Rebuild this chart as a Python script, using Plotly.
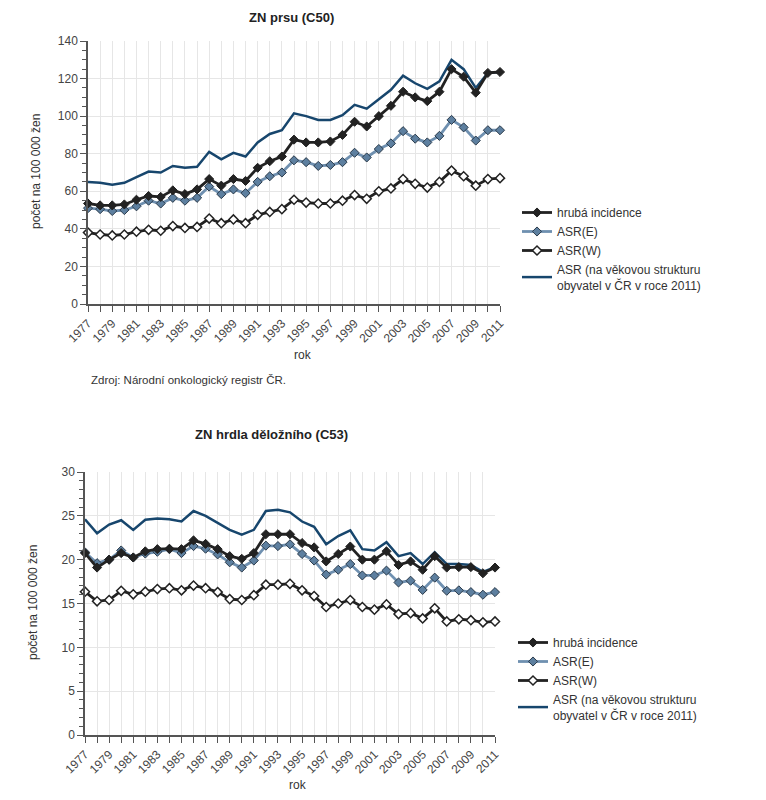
import plotly.graph_objects as go

years = list(range(1977, 2012))

# ZN prsu (C50)
c50_hruba = [53.5, 52.5, 52.5, 53, 55.5, 57.5, 57, 60.5, 58.5, 61, 66.5, 63, 66.5, 65.5, 72.5, 76, 78.5,
             87.5, 86, 86, 86.5, 90, 97, 94.5, 100, 105.5, 113, 110, 108, 113, 125, 121, 112.5, 123, 123.5]
c50_asr_e = [51, 50.5, 49.5, 50, 52, 55, 53.5, 56.5, 55, 56.5, 62.5, 58.5, 61, 59, 65, 68, 70,
             76.5, 75.5, 73.5, 74, 75.5, 80.5, 78, 82.5, 85.5, 92, 88, 86, 89.5, 98, 94, 87, 92.5, 92.5]
c50_asr_w = [38, 37, 36.5, 37, 38.5, 39.5, 39, 41.5, 40.5, 41, 45.5, 43, 45, 43, 47.5, 49, 50.5,
             55.5, 54, 53.5, 53.5, 55, 58, 56, 60, 61.5, 66.5, 64, 62, 65, 71, 68, 63, 66.5, 67]
c50_asr_cr = [65, 64.5, 63.5, 64.5, 67.5, 70.5, 70, 73.5, 72.5, 73, 81, 77, 80.5, 78.5, 86, 90.5, 92.5,
              101.5, 100, 98, 98, 100.5, 106, 104, 109, 114, 121.5, 117.5, 114.5, 118.5, 130, 125, 115, 123, 123.5]

# ZN hrdla děložního (C53)
c53_hruba = [20.75, 19.1, 20.0, 20.75, 20.25, 20.95, 21.2, 21.25, 21.2, 22.2, 21.8, 21.2, 20.4, 20.1, 20.75,
             22.9, 22.9, 22.9, 21.9, 21.4, 19.8, 20.65, 21.5, 20.0, 20.0, 20.95, 19.4, 19.8, 18.85, 20.4,
             19.1, 19.15, 19.15, 18.45, 19.1]
c53_asr_e = [20.85, 19.6, 20.0, 21.05, 20.25, 20.7, 20.9, 21.2, 20.75, 21.55, 21.25, 20.6, 19.7, 19.1, 19.9,
             21.6, 21.55, 21.75, 20.65, 19.9, 18.3, 18.85, 19.5, 18.2, 18.2, 18.75, 17.4, 17.6, 16.55, 17.95,
             16.45, 16.5, 16.3, 16.0, 16.3]
c53_asr_w = [16.35, 15.25, 15.4, 16.45, 16.05, 16.35, 16.65, 16.75, 16.5, 17.05, 16.75, 16.3, 15.5, 15.4, 15.95,
             17.15, 17.15, 17.25, 16.5, 15.85, 14.6, 15.0, 15.4, 14.6, 14.3, 14.9, 13.8, 13.9, 13.3, 14.45,
             12.95, 13.2, 13.1, 12.85, 12.95]
c53_asr_cr = [24.6, 23.0, 24.0, 24.5, 23.4, 24.55, 24.7, 24.6, 24.35, 25.55, 25.0, 24.2, 23.4, 22.85, 23.4,
              25.55, 25.7, 25.4, 24.35, 23.75, 21.75, 22.7, 23.35, 21.2, 21.05, 22.0, 20.4, 20.75, 19.5, 20.85,
              19.5, 19.5, 19.4, 18.6, 19.15]

series_names = ["hrubá incidence", "ASR(E)", "ASR(W)", "ASR (na věkovou strukturu<br>obyvatel v ČR v roce 2011)"]
titles = ["ZN prsu (C50)", "ZN hrdla děložního (C53)"]
y_title = "počet na 100 000 žen"
x_title = "rok"
source = "Zdroj: Národní onkologický registr ČR."

W, H = 766, 800
OFFX, OFFY = 5, 8  # page offset
FONT = "Liberation Sans, Arial, sans-serif"
NAVY = "#17466d"
STEEL = "#6f90b0"
STEEL_FILL = "#5d7f9f"
BLACK = "#222222"

def px_x(p):
    return (p - OFFX) / W

def px_y(p):
    return 1 - (p - OFFY) / H

fig = go.Figure()

panels = [
    dict(data=(c50_hruba, c50_asr_e, c50_asr_w, c50_asr_cr), xa="x", ya="y", legend="legend"),
    dict(data=(c53_hruba, c53_asr_e, c53_asr_w, c53_asr_cr), xa="x2", ya="y2", legend="legend2"),
]

MS = 7
for p in panels:
    hr, ae, aw, acr = p["data"]
    common = dict(x=years, xaxis=p["xa"], yaxis=p["ya"], legend=p["legend"], cliponaxis=False)
    fig.add_trace(go.Scatter(y=acr, name=series_names[3], mode="lines", legendrank=4,
                             line=dict(color=NAVY, width=2.5), **common))
    fig.add_trace(go.Scatter(y=aw, name=series_names[2], mode="lines+markers", legendrank=3,
                             line=dict(color=BLACK, width=2.8),
                             marker=dict(symbol="diamond", size=MS, color="white",
                                         line=dict(color=BLACK, width=1.5)), **common))
    fig.add_trace(go.Scatter(y=ae, name=series_names[1], mode="lines+markers", legendrank=2,
                             line=dict(color=STEEL, width=2.8),
                             marker=dict(symbol="diamond", size=MS, color=STEEL_FILL,
                                         line=dict(color="#2a3a4a", width=1)), **common))
    fig.add_trace(go.Scatter(y=hr, name=series_names[0], mode="lines+markers", legendrank=1,
                             line=dict(color=BLACK, width=2.8),
                             marker=dict(symbol="diamond", size=MS, color=BLACK,
                                         line=dict(color=BLACK, width=1)), **common))

axis_font = dict(family=FONT, size=12, color="#444")

def xaxis(domain, anchor):
    return dict(domain=domain, anchor=anchor, range=[1977, 2011], automargin=False,
                tickmode="linear", tick0=1977, dtick=2, tickangle=-45,
                ticks="outside", ticklen=6, tickcolor="#555", tickwidth=1.2,
                showgrid=True, gridcolor="#e6e6e6", gridwidth=1,
                minor=dict(dtick=1, tick0=1977, ticks="outside", ticklen=6, tickcolor="#555",
                           showgrid=True, gridcolor="#e6e6e6"),
                showline=True, linecolor="#555", linewidth=1.5, zeroline=False,
                tickfont=axis_font)

def yaxis(domain, anchor, rng, dt, mdt):
    return dict(domain=domain, anchor=anchor, range=rng, dtick=dt, tick0=0, automargin=False,
                ticks="outside", ticklen=6, tickcolor="#555", tickwidth=1.2,
                showgrid=True, gridcolor="#e6e6e6", gridwidth=1,
                minor=dict(dtick=mdt, ticks="outside", ticklen=4, tickcolor="#555", showgrid=False),
                showline=True, linecolor="#555", linewidth=1.5, zeroline=False,
                tickfont=axis_font)

fig.update_layout(
    width=W, height=H,
    margin=dict(l=0, r=0, t=0, b=0, pad=0, autoexpand=False),
    paper_bgcolor="white", plot_bgcolor="white",
    font=dict(family=FONT, size=12, color="#333"),
    xaxis=xaxis([px_x(85), px_x(497)], "y"),
    yaxis=yaxis([px_y(304), px_y(41)], "x", [0, 140], 20, 5),
    xaxis2=xaxis([px_x(82), px_x(492)], "y2"),
    yaxis2=yaxis([px_y(735), px_y(472)], "x2", [0, 30], 5, 1),
    legend=dict(x=px_x(514), y=px_y(198), xanchor="left", yanchor="top",
                font=dict(family=FONT, size=12, color="#333"), bgcolor="rgba(0,0,0,0)",
                tracegroupgap=0, itemwidth=30),
    legend2=dict(x=px_x(510), y=px_y(628), xanchor="left", yanchor="top",
                 font=dict(family=FONT, size=12, color="#333"), bgcolor="rgba(0,0,0,0)",
                 tracegroupgap=0, itemwidth=30),
    showlegend=True,
)

ann = []
ann.append(dict(text="<b>%s</b>" % titles[0], x=px_x(288), y=1, xref="paper", yref="paper",
                showarrow=False, font=dict(family=FONT, size=13, color="#222"), xanchor="center", yanchor="top"))
ann.append(dict(text="<b>%s</b>" % titles[1], x=px_x(268), y=px_y(435), xref="paper", yref="paper",
                showarrow=False, font=dict(family=FONT, size=13, color="#222"), xanchor="center", yanchor="middle"))
for (yx, yy) in [(33, 172), (30, 603)]:
    ann.append(dict(text=y_title, x=px_x(yx), y=px_y(yy), xref="paper", yref="paper", textangle=-90,
                    showarrow=False, font=dict(family=FONT, size=12, color="#333"),
                    xanchor="center", yanchor="middle"))
for (xx, xy) in [(300, 355), (295, 785)]:
    ann.append(dict(text=x_title, x=px_x(xx), y=px_y(xy), xref="paper", yref="paper",
                    showarrow=False, font=dict(family=FONT, size=12, color="#333"),
                    xanchor="center", yanchor="middle"))
ann.append(dict(text=source, x=px_x(86), y=px_y(380), xref="paper", yref="paper",
                showarrow=False, font=dict(family=FONT, size=11.5, color="#333"),
                xanchor="left", yanchor="middle"))
fig.update_layout(annotations=ann)

fig.write_html("out.html")
